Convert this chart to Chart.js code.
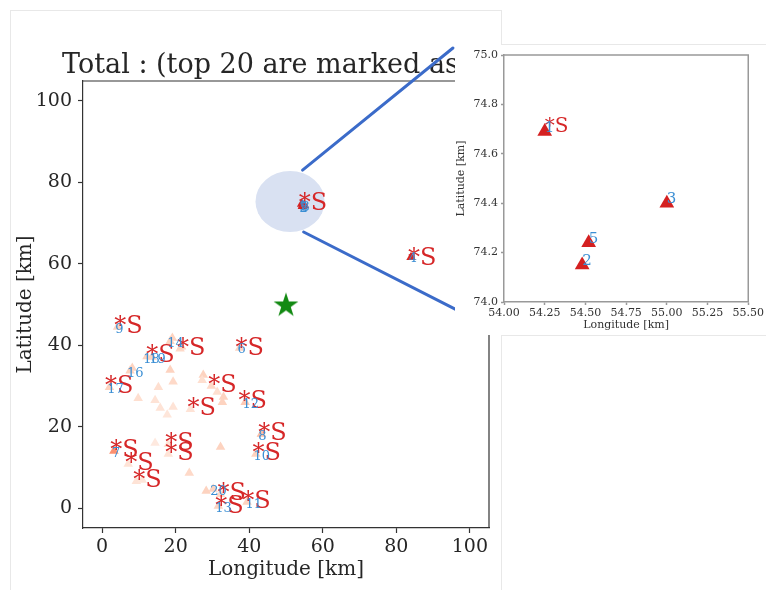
<!DOCTYPE html>
<html>
<head>
<meta charset="utf-8">
<script src="https://cdn.jsdelivr.net/npm/chart.js@4.4.1/dist/chart.umd.min.js"></script>
<style>
  html, body { margin: 0; padding: 0; background: #fff; }
  #wrap { position: relative; width: 766px; height: 590px; overflow: hidden; }
  #main { position: absolute; left: 0; top: 0; }
  #zoom { position: absolute; left: 455px; top: 44px; background: #fff; }
  .edge { position: absolute; background: #e8e8e8; }
</style>
</head>
<body>
<div id="wrap">
  <canvas id="main" width="766" height="590"></canvas>
  <canvas id="zoom" width="311" height="291"></canvas>
  <div class="edge" style="left:10px;top:10px;width:1px;height:580px"></div>
  <div class="edge" style="left:10px;top:10px;width:491px;height:1px"></div>
  <div class="edge" style="left:501px;top:10px;width:1px;height:34px"></div>
  <div class="edge" style="left:501px;top:44px;width:265px;height:1px"></div>
  <div class="edge" style="left:501px;top:335px;width:265px;height:1px"></div>
  <div class="edge" style="left:501px;top:335px;width:1px;height:255px"></div>
</div>
<script>
// all stations (triangles), coloured by level on a Reds ramp
const siteX = [54.25, 54.48, 55.00, 54.52, 84.0, 37.4, 3.2, 43.3, 4.2, 41.8, 39.4, 38.9, 31.6, 18.5, 7.6, 2.0, 12.2, 13.6, 30.2,
  21.2, 29.7, 24.0, 7.1, 9.3, 18.0, 18.0, 32.2, 19.1, 21.6, 18.5, 19.3, 15.3, 9.8, 14.4, 15.8, 17.7, 19.3,
  27.5, 27.2, 33.0, 32.7, 31.3, 8.2, 14.4, 32.2, 23.7, 28.3, 10.9];
const siteY = [74.69, 74.15, 74.40, 74.24, 61.6, 39.3, 14.0, 18.2, 44.5, 13.3, 1.5, 26.0, 0.5, 41.0, 33.7, 29.7, 37.2, 37.1, 4.7,
  39.1, 30.0, 24.3, 10.8, 6.6, 15.7, 13.3, 3.4, 41.8, 39.6, 33.9, 31.0, 29.7, 27.0, 26.5, 24.6, 22.9, 24.8,
  32.7, 31.4, 27.3, 26.0, 28.5, 34.4, 16.0, 15.0, 8.6, 4.2, 6.9];
const siteLevel = [0.72, 0.72, 0.72, 0.72, 0.7, 0.17, 0.38, 0.24, 0.17, 0.17, 0.17, 0.2, 0.17, 0.17, 0.17, 0.17, 0.17, 0.17, 0.17,
  0.15, 0.15, 0.11, 0.11, 0.11, 0.11, 0.11, 0.15, 0.17, 0.17, 0.17, 0.15, 0.13, 0.13, 0.11, 0.11, 0.09, 0.11,
  0.17, 0.13, 0.17, 0.17, 0.13, 0.17, 0.07, 0.17, 0.15, 0.17, 0.09];

// ranked stations (blue numbers)
const rankNo = [1, 2, 3, 4, 5, 6, 7, 8, 9, 10, 11, 12, 13, 14, 16, 17, 18, 19, 20];
const rankX = [54.25, 54.48, 55.00, 84.2, 54.52, 37.6, 3.5, 43.3, 4.4, 42.0, 39.8, 39.0, 31.6, 18.5, 7.6, 2.2, 12.0, 13.6, 30.2];
const rankY = [74.69, 74.15, 74.40, 62.0, 74.24, 39.6, 14.0, 18.2, 44.5, 13.3, 1.5, 26.0, 0.5, 41.0, 33.7, 29.7, 37.1, 37.1, 4.7];

// top 20 stations, marked "*S"
const markX = [54.25, 84.0, 4.1, 12.8, 21.2, 37.1, 1.6, 29.7, 24.0, 37.9, 43.3, 41.7, 3.0, 7.1, 9.3, 18.0, 18.0, 32.2, 31.6, 38.9];
const markY = [74.69, 61.2, 44.5, 37.3, 39.1, 39.1, 29.7, 30.0, 24.3, 26.0, 18.2, 13.3, 14.0, 10.8, 6.6, 15.7, 13.3, 3.4, 0.2, 1.5];

const centreX = 50, centreY = 50;

const mainTicks = [0, 20, 40, 60, 80, 100];
const zoomXTicks = [54.0, 54.25, 54.5, 54.75, 55.0, 55.25, 55.5];
const zoomYTicks = [74.0, 74.2, 74.4, 74.6, 74.8, 75.0];

// zoom window drawn on the overview and the lines running to the inset
const lensX = 51.1, lensY = 75.3, lensRx = 9.4, lensRy = 7.5;
const linkFrom = [[54.5, 83.0], [54.8, 67.8]];
const linkTo = [[95.4, 113.0], [97.2, 48.3]];

const RED = '#d62728', BLUE = '#3b8fd4', INK = '#262626';
const SERIF = '"DejaVu Serif", serif';

const reds = ['#fff5f0', '#fee0d2', '#fcbba1', '#fc9272', '#fb6a4a', '#ef3b2c', '#cb181d', '#a50f15', '#67000d'];
function redRamp(t) {
  const p = Math.max(0, Math.min(1, t)) * (reds.length - 1);
  const i = Math.min(Math.floor(p), reds.length - 2), f = p - i;
  const a = parseInt(reds[i].slice(1), 16), b = parseInt(reds[i + 1].slice(1), 16);
  const ch = s => Math.round(((a >> s) & 255) * (1 - f) + ((b >> s) & 255) * f);
  return `rgb(${ch(16)},${ch(8)},${ch(0)})`;
}

const sites = siteX.map((x, i) => ({ x, y: siteY[i] }));
const siteColors = siteLevel.map(redRamp);

// filled five point star for the centre marker
const star = document.createElement('canvas');
star.width = 28; star.height = 28;
(function () {
  const c = star.getContext('2d');
  c.beginPath();
  for (let k = 0; k < 10; k++) {
    const r = k % 2 ? 5 : 13;
    const a = -Math.PI / 2 + k * Math.PI / 5;
    c.lineTo(14 + r * Math.cos(a), 15 + r * Math.sin(a));
  }
  c.closePath();
  c.fillStyle = '#138a13';
  c.fill();
})();

function fixedTicks(vals) {
  return s => { s.ticks = vals.map(v => ({ value: v })); };
}

function axis(min, max, vals, label, o) {
  return {
    type: 'linear', min, max,
    afterBuildTicks: fixedTicks(vals),
    afterFit: o.fit,
    ticks: { autoSkip: false, maxRotation: 0, color: o.color, padding: o.pad,
             font: { family: SERIF, size: o.tickSize }, callback: o.fmt },
    grid: { display: true, drawOnChartArea: false, drawTicks: true, tickLength: o.tickLen,
            tickColor: o.line, tickWidth: o.lineW },
    border: { display: true, color: o.line, width: o.lineW },
    title: { display: true, text: label, color: o.color, padding: o.titlePad,
             font: { family: SERIF, size: o.titleSize } }
  };
}

function labelsPlugin(opts) {
  return {
    id: 'labels',
    beforeDatasetsDraw(chart) {
      if (!opts.lens) return;
      const { ctx } = chart, xs = chart.scales.x, ys = chart.scales.y;
      const cx = xs.getPixelForValue(lensX), cy = ys.getPixelForValue(lensY);
      const rx = Math.abs(xs.getPixelForValue(lensX + lensRx) - cx);
      const ry = Math.abs(ys.getPixelForValue(lensY + lensRy) - cy);
      ctx.save();
      ctx.fillStyle = '#d9e1f2';
      ctx.beginPath();
      ctx.ellipse(cx, cy, rx, ry, 0, 0, Math.PI * 2);
      ctx.fill();
      ctx.restore();
    },
    afterDatasetsDraw(chart) {
      const { ctx, chartArea: a } = chart, xs = chart.scales.x, ys = chart.scales.y;
      const inside = (x, y) => x >= xs.min && x <= xs.max && y >= ys.min && y <= ys.max;
      ctx.save();
      ctx.textAlign = 'left';
      ctx.textBaseline = 'alphabetic';
      ctx.font = `${opts.markSize}px ${SERIF}`;
      ctx.fillStyle = RED;
      markX.forEach((x, i) => {
        if (!inside(x, markY[i])) return;
        ctx.fillText('*S', xs.getPixelForValue(x) + opts.dx, ys.getPixelForValue(markY[i]) + opts.dy);
      });
      ctx.font = `${opts.numSize}px ${SERIF}`;
      ctx.fillStyle = BLUE;
      rankNo.forEach((n, i) => {
        if (!inside(rankX[i], rankY[i])) return;
        ctx.fillText(String(n), xs.getPixelForValue(rankX[i]) + opts.dx, ys.getPixelForValue(rankY[i]) + opts.dy);
      });
      // top and right spines
      ctx.strokeStyle = opts.line;
      ctx.lineWidth = opts.lineW;
      ctx.beginPath();
      ctx.moveTo(a.left, a.top); ctx.lineTo(a.right, a.top); ctx.lineTo(a.right, a.bottom);
      ctx.stroke();
      ctx.restore();
    },
    afterDraw(chart) {
      if (!opts.lens) return;
      const { ctx, chartArea: a } = chart, xs = chart.scales.x, ys = chart.scales.y;
      ctx.save();
      ctx.fillStyle = INK;
      ctx.font = `27px ${SERIF}`;
      ctx.textAlign = 'center';
      ctx.textBaseline = 'alphabetic';
      ctx.fillText('Total : (top 20 are marked as *S)', (a.left + a.right) / 2, a.top - 8);
      ctx.strokeStyle = '#3b6bc9';
      ctx.lineWidth = 3;
      ctx.lineCap = 'round';
      linkFrom.forEach((p, i) => {
        ctx.beginPath();
        ctx.moveTo(xs.getPixelForValue(p[0]), ys.getPixelForValue(p[1]));
        ctx.lineTo(xs.getPixelForValue(linkTo[i][0]), ys.getPixelForValue(linkTo[i][1]));
        ctx.stroke();
      });
      ctx.restore();
    }
  };
}

// overview
new Chart(document.getElementById('main'), {
  type: 'scatter',
  data: {
    datasets: [
      { data: sites, pointStyle: 'triangle', pointRadius: 5.5, pointBorderWidth: 0,
        backgroundColor: siteColors, borderColor: siteColors },
      { data: [{ x: centreX, y: centreY }], pointStyle: star, pointRadius: 12 }
    ]
  },
  options: {
    responsive: false,
    animation: false,
    events: [],
    layout: { padding: { left: 0, top: 81, right: 277, bottom: 0 } },
    plugins: { legend: { display: false }, tooltip: { enabled: false } },
    scales: {
      x: axis(-5.2, 105.2, mainTicks, 'Longitude [km]', {
        fit: s => { s.height = 62; }, color: INK, pad: 3, tickSize: 19, tickLen: 5,
        line: '#333', lineW: 1.2, titlePad: { top: 0, bottom: 8 }, titleSize: 20 }),
      y: axis(-4.9, 104.9, mainTicks, 'Latitude [km]', {
        fit: s => { s.width = 83; }, color: INK, pad: 6, tickSize: 19, tickLen: 5,
        line: '#333', lineW: 1.2, titlePad: { top: 14, bottom: 0 }, titleSize: 20 })
    }
  },
  plugins: [labelsPlugin({ lens: true, markSize: 24, numSize: 13, dx: -3, dy: 6, line: '#333', lineW: 1.2 })]
});

// enlarged view of the cluster near (54.5, 74.5)
new Chart(document.getElementById('zoom'), {
  type: 'scatter',
  data: {
    datasets: [
      { data: sites, pointStyle: 'triangle', pointRadius: 8.5, pointBorderWidth: 0,
        backgroundColor: siteColors, borderColor: siteColors }
    ]
  },
  options: {
    responsive: false,
    animation: false,
    events: [],
    layout: { padding: { left: 0, top: 11, right: 13, bottom: 0 } },
    plugins: { legend: { display: false }, tooltip: { enabled: false } },
    scales: {
      x: axis(54.0, 55.5, zoomXTicks, 'Longitude [km]', {
        fit: s => { s.height = 33; }, color: '#333', pad: 2, tickSize: 11, tickLen: 3,
        line: '#999', lineW: 1.5, titlePad: { top: 0, bottom: 3 }, titleSize: 11,
        fmt: v => v.toFixed(2) }),
      y: axis(74.0, 75.0, zoomYTicks, 'Latitude [km]', {
        fit: s => { s.width = 49; }, color: '#333', pad: 3, tickSize: 11, tickLen: 3,
        line: '#999', lineW: 1.5, titlePad: { top: 0, bottom: 0 }, titleSize: 11,
        fmt: v => v.toFixed(1) })
    }
  },
  plugins: [labelsPlugin({ lens: false, markSize: 20, numSize: 15, dx: 0, dy: 0, line: '#999', lineW: 1.5 })]
});
</script>
</body>
</html>
